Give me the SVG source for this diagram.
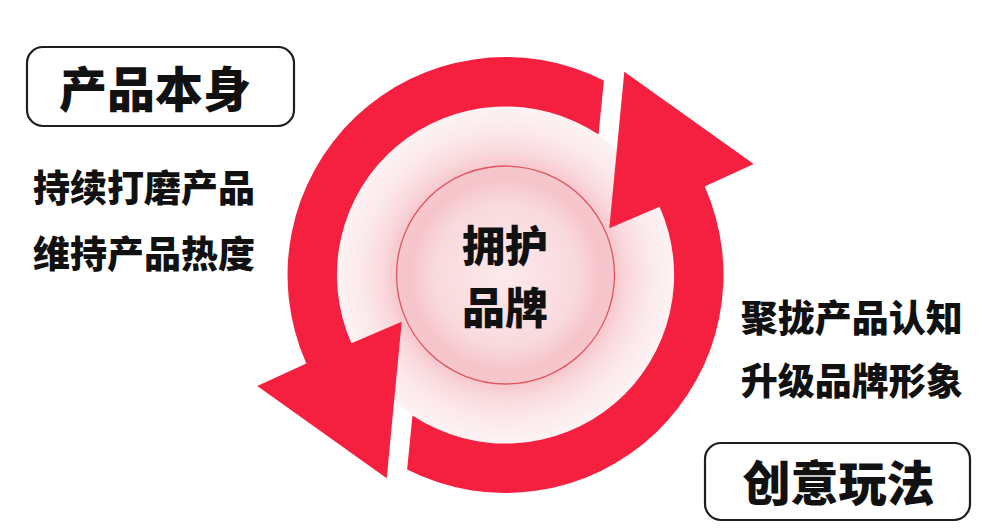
<svg xmlns="http://www.w3.org/2000/svg" width="998" height="530" viewBox="0 0 998 530">
  <defs>
    <style>
      .t { font-family: "Noto Sans CJK SC", "Noto Sans", sans-serif; font-weight: 900; fill: #111; text-anchor: middle; }
      .box { fill: #fff; stroke: #1e1e1e; stroke-width: 2.2; }
      .arrow { fill: #f5203f; }
    </style>
    <radialGradient id="disk" cx="505.5" cy="275" r="168.5" gradientUnits="userSpaceOnUse">
      <stop offset="0" stop-color="#fce9eb"/>
      <stop offset="0.42" stop-color="#f9dade"/>
      <stop offset="0.57" stop-color="#f5c4ca"/>
      <stop offset="0.647" stop-color="#f6c7cc"/>
      <stop offset="0.73" stop-color="#f9d9dd"/>
      <stop offset="0.86" stop-color="#fce9eb"/>
      <stop offset="1" stop-color="#fdf3f4"/>
    </radialGradient>
  </defs>
  <rect width="998" height="530" fill="#ffffff"/>

  <g id="hub">
    <circle cx="505.5" cy="275" r="168.5" fill="url(#disk)"/>
    <circle cx="505.5" cy="275" r="109" fill="none" stroke="#e0535f" stroke-width="1.3"/>
  </g>

  <g id="connectors">
    <path class="arrow" d="M 603.9 80.5 A 218 218 0 0 0 306.3 363.5 L 257.3 386 L 386.7 478.3 L 401.7 321.7 L 351.4 343.3 A 168.5 168.5 0 0 1 598.5 134.5 Z"/>
    <path class="arrow" transform="rotate(180 505.5 275)" d="M 603.9 80.5 A 218 218 0 0 0 306.3 363.5 L 257.3 386 L 386.7 478.3 L 401.7 321.7 L 351.4 343.3 A 168.5 168.5 0 0 1 598.5 134.5 Z"/>
  </g>

  <g id="center-label">
    <text class="t" x="505" y="261.5" font-size="43">拥护</text>
    <text class="t" x="505" y="324" font-size="43">品牌</text>
  </g>

  <g id="product">
    <rect class="box" x="27" y="47" width="267" height="79" rx="16"/>
    <text class="t" x="155" y="106.7" font-size="48">产品本身</text>
  </g>

  <g id="product-notes">
    <text class="t" x="144" y="201.5" font-size="37">持续打磨产品</text>
    <text class="t" x="144" y="268" font-size="37">维持产品热度</text>
  </g>

  <g id="brand-notes">
    <text class="t" x="851.7" y="331.5" font-size="37">聚拢产品认知</text>
    <text class="t" x="851.7" y="395" font-size="37">升级品牌形象</text>
  </g>

  <g id="creative">
    <rect class="box" x="705" y="443" width="265" height="77" rx="16"/>
    <text class="t" x="838.5" y="501.2" font-size="48">创意玩法</text>
  </g>
</svg>
